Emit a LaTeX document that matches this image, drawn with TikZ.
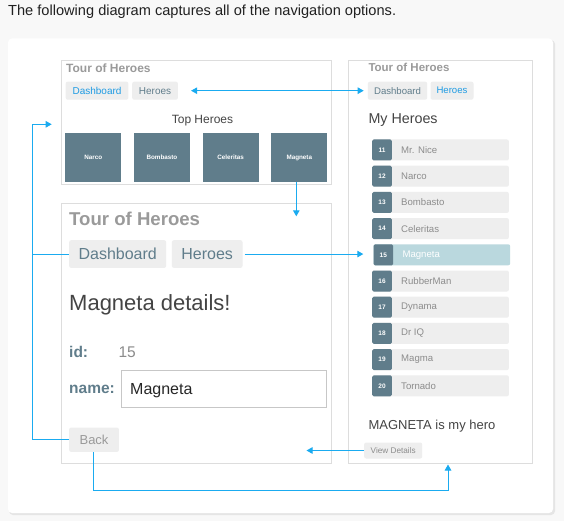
\documentclass[tikz,border=0pt]{standalone}
\usepackage{fontspec}
\setmainfont{Liberation Sans}
\usetikzlibrary{arrows.meta}

\definecolor{pagebg}{HTML}{F8F8F8}
\definecolor{navblue}{HTML}{1AABF0}
\definecolor{panelline}{HTML}{DDDDDD}
\definecolor{btnbg}{HTML}{EEEEEE}
\definecolor{slate}{HTML}{607D8B}
\definecolor{activeblue}{HTML}{1E9BE3}
\definecolor{titlegray}{HTML}{9A9A9A}
\definecolor{darktext}{HTML}{444444}
\definecolor{nametext}{HTML}{8C8C8C}
\definecolor{selrow}{HTML}{BAD8DE}

\newcommand\setpx[1]{\fontsize{#1}{#1}\selectfont}

\begin{document}
\begin{tikzpicture}[x=1pt,y=-1pt,
    panel/.style={draw=panelline, line width=0.8pt, inner sep=0pt},
    btn/.style={fill=btnbg, rounded corners=2pt, inner sep=0pt, text=slate},
    tile/.style={fill=slate, inner sep=0pt, minimum width=56pt, minimum height=48.4pt,
      text=white, font=\setpx{6.3}\bfseries},
    badge/.style={fill=slate, rounded corners=1.5pt, inner sep=0pt, minimum width=19.7pt,
      minimum height=21pt, text=white, font=\setpx{6.5}\bfseries},
    heading/.style={anchor=base west, inner sep=0pt, text=titlegray, font=\bfseries},
    nav/.style={draw=navblue, line width=1pt, -{Triangle[length=6pt,width=6.5pt]}},
    navln/.style={draw=navblue, line width=1pt}]
  \useasboundingbox (0,0) rectangle (564,521);
  \fill[pagebg] (0,0) rectangle (564,521);

  % card
  \fill[black!10, rounded corners=4pt] (9,40) rectangle (555,515);
  \fill[white, rounded corners=4pt] (8,38.5) rectangle (553,513);
  \node[anchor=base west, inner sep=0pt, text=black!87, font=\setpx{14.6}] (intro) at (8,16)
    {The following diagram captures all of the navigation options.};

  % dashboard view
  \node[panel, anchor=north west, minimum width=270.8pt, minimum height=124.6pt] (dashPanel) at (60.5,59.7) {};
  \node[heading, font=\setpx{12}\bfseries] (dTitle) at (66,73) {Tour of Heroes};
  \node[btn, anchor=north west, minimum width=62.7pt, minimum height=18pt, text=activeblue,
    font=\setpx{10}] (dDash) at (65.5,81.5) {Dashboard};
  \node[btn, anchor=north west, minimum width=45.7pt, minimum height=18pt,
    font=\setpx{10}] (dHeroes) at (132,81.5) {Heroes};
  \node[anchor=base, inner sep=0pt, text=darktext, font=\setpx{12}] (topHeroes) at (202.5,124) {Top Heroes};
  \foreach \hero [count=\i] in {Narco,Bombasto,Celeritas,Magneta}
    \node[tile, anchor=north west] (tile\i) at ({65+68.7*(\i-1)},133.3) {\hero};

  % hero detail view
  \node[panel, anchor=north west, minimum width=270.8pt, minimum height=259.2pt] (details) at (60.5,203.3) {};
  \node[heading, font=\setpx{18.6}\bfseries] (ddTitle) at (69,225.7) {Tour of Heroes};
  \node[btn, anchor=north west, minimum width=97pt, minimum height=27.7pt,
    font=\setpx{16}] (ddDash) at (69,240) {Dashboard};
  \node[btn, anchor=north west, minimum width=70.6pt, minimum height=27.7pt,
    font=\setpx{16}] (ddHeroes) at (171.7,240) {Heroes};
  \node[anchor=base west, inner sep=0pt, text=darktext, font=\setpx{22}] (ddHead) at (69,310) {Magneta details!};
  \node[anchor=base west, inner sep=0pt, text=slate, font=\setpx{15.5}\bfseries] (idLabel) at (69,357.7) {id:};
  \node[anchor=base west, inner sep=0pt, text=nametext, font=\setpx{15.5}] (idValue) at (118.3,357.7) {15};
  \node[anchor=base west, inner sep=0pt, text=slate, font=\setpx{15.5}\bfseries] (nameLabel) at (69,393.3) {name:};
  \node[draw=black!22, line width=0.8pt, anchor=north west, minimum width=204.7pt,
    minimum height=36.7pt, inner sep=0pt] (nameBox) at (121,370) {};
  \node[anchor=base west, inner sep=0pt, text=black!85, font=\setpx{16}] (nameValue) at (130,394) {Magneta};
  \node[btn, anchor=north west, minimum width=49.7pt, minimum height=24.4pt, text=titlegray,
    font=\setpx{13}] (back) at (69,427.3) {Back};

  % heroes list view
  \node[panel, anchor=north west, minimum width=183.4pt, minimum height=403pt] (heroesPanel) at (348.3,59.7) {};
  \node[heading, font=\setpx{11.5}\bfseries] (hTitle) at (368.3,71.7) {Tour of Heroes};
  \node[btn, anchor=north west, minimum width=59.3pt, minimum height=18pt,
    font=\setpx{9.6}] (hDash) at (367.7,81.5) {Dashboard};
  \node[btn, anchor=north west, minimum width=43pt, minimum height=18pt, text=activeblue,
    font=\setpx{9.6}] (hHeroes) at (430.3,81.5) {Heroes};
  \node[anchor=base west, inner sep=0pt, text=darktext, font=\setpx{14.3}] (myHeroes) at (368.3,123.3) {My Heroes};
  \foreach \num/\hero/\dx/\bg/\fg [count=\k from 0] in {11/Mr. Nice/0/btnbg/nametext,
      12/Narco/0/btnbg/nametext, 13/Bombasto/0/btnbg/nametext, 14/Celeritas/0/btnbg/nametext,
      15/Magneta/1.3/selrow/white, 16/RubberMan/0/btnbg/nametext, 17/Dynama/0/btnbg/nametext,
      18/Dr IQ/0/btnbg/nametext, 19/Magma/0/btnbg/nametext, 20/Tornado/0/btnbg/nametext} {
    \node[fill=\bg, rounded corners=2pt, anchor=north west, minimum width=136.7pt,
      minimum height=21pt, inner sep=0pt] (r\num) at ({372+\dx},{139.3+26.2*\k}) {};
    \node[badge, anchor=north west] (b\num) at ({372+\dx},{139.3+26.2*\k}) {\num};
    \node[anchor=west, inner sep=0pt, text=\fg, font=\setpx{9.6}] (n\num) at ([xshift=29pt]r\num.west) {\hero};
  }
  \node[anchor=base west, inner sep=0pt, text=darktext, font=\setpx{13}] (myHero) at (368.3,429) {MAGNETA is my hero};
  \node[btn, anchor=north west, minimum width=58pt, minimum height=16pt, text=nametext,
    font=\setpx{8.2}] (viewDetails) at (364,442.3) {View Details};

  % navigation
  \coordinate (loopL) at (32,124.3);
  \coordinate (loopTip) at (51.7,124.3);
  \coordinate (detTip) at (306.5,453);
  \coordinate (listTip) at (448,464.5);
  \draw[navln, {Triangle[length=6pt,width=6.5pt]}-{Triangle[length=6pt,width=6.5pt]}]
    ([xshift=13pt]dHeroes.east) -- ([xshift=-4pt]hDash.west);
  \draw[nav] ([xshift=-3pt]tile4.south) -- ([xshift=-3pt,yshift=-13pt]tile4.south |- details.north);
  \draw[nav] (ddDash.west) -| (loopL) -- (loopTip);
  \draw[navln] (back.west) -| (loopL |- ddDash.west);
  \draw[nav] ([xshift=2pt]ddHeroes.east) -- ([xshift=-10pt]b15.west |- ddHeroes.east);
  \draw[nav] (viewDetails.west) -- (detTip |- viewDetails.west);
  \draw[nav] ([xshift=-1pt]back.south) -- ++(0,38.5) -| (listTip);
\end{tikzpicture}
\end{document}
